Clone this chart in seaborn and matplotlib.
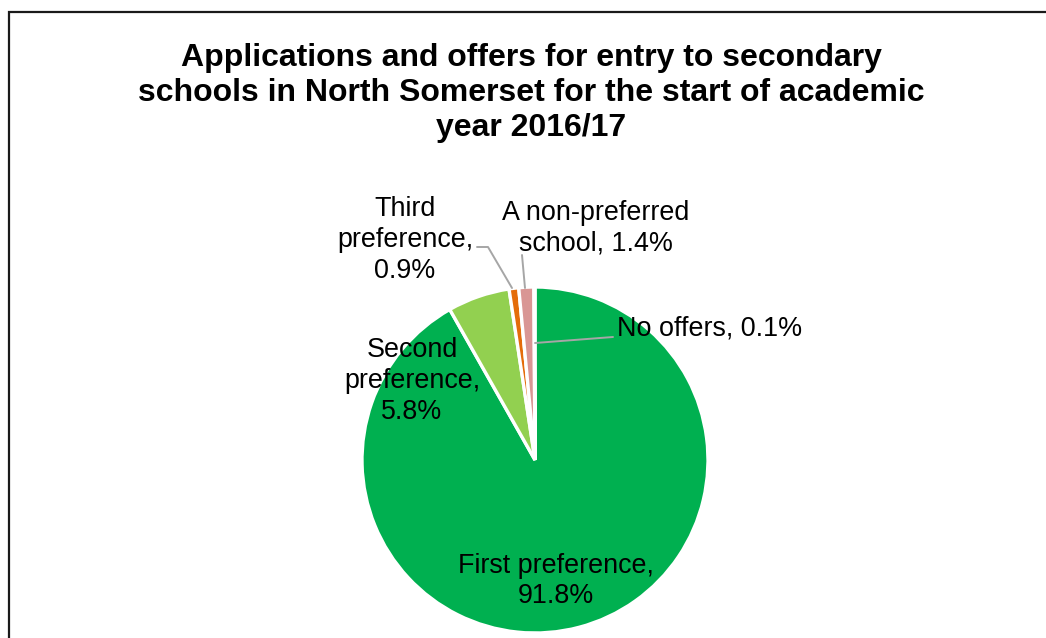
import matplotlib
matplotlib.use("Agg")
import matplotlib.pyplot as plt
from matplotlib.patches import Rectangle
import seaborn as sns

sns.set_theme(style="white")
plt.rcParams["font.family"] = ["Liberation Sans", "DejaVu Sans"]

# Offer outcomes (share of applicants, %)
categories = ["First preference", "Second preference", "Third preference",
              "A non-preferred school", "No offers"]
shares = [91.8, 5.8, 0.9, 1.4, 0.1]
colors = ["#00B050", "#92D050", "#E46C0A", "#D99694", "#8EB4E3"]
label_texts = ["First preference,\n91.8%", "Second\npreference,\n5.8%",
               "Third\npreference,\n0.9%", "A non-preferred\nschool, 1.4%",
               "No offers, 0.1%"]
title = ("Applications and offers for entry to secondary\n"
         "schools in North Somerset for the start of academic\n"
         "year 2016/17")

W, H = 1046, 638
fig = plt.figure(figsize=(W / 100, H / 100), dpi=100)
fig.patch.set_facecolor("white")

# Chart frame
fig.patches.append(Rectangle((8.5 / W, -0.2), 1.5, 1.2 - 11.5 / H,
                             transform=fig.transFigure, fill=False,
                             edgecolor="#1a1a1a", linewidth=1.6, zorder=0))

# Pie axes: unit radius = 173 px, centre at (535, 460) px
R = 173.0
cx, cy = 535.0, 460.0
half = 1.2 * R
ax = fig.add_axes([(cx - half) / W, (H - cy - half) / H, 2 * half / W, 2 * half / H])

ax.pie(shares, colors=colors, startangle=90, counterclock=False, radius=1.0,
       wedgeprops=dict(edgecolor="white", linewidth=2.4))
ax.set_aspect("auto")
ax.set_xlim(-1.2, 1.2)
ax.set_ylim(-1.2, 1.2)
ax.axis("off")

def d(px, py):
    return ((px - cx) / R, (cy - py) / R)

fs = 19.4
label_pos = [(556, 581), (412, 381), (405, 240), (596, 228), (710, 328)]
for txt, (px, py) in zip(label_texts, label_pos):
    x, y = d(px, py)
    ax.text(x, y, txt, ha="center", va="center", fontsize=fs, color="black",
            linespacing=1.24, clip_on=False)

# Leader lines
leaders = [
    [(477, 247), (488, 247), (512, 288)],
    [(522, 255), (525, 288)],
    [(535, 343), (613, 337)],
]
for pts in leaders:
    xs, ys = zip(*[d(px, py) for px, py in pts])
    ax.plot(xs, ys, color="#A6A6A6", linewidth=1.4, clip_on=False, zorder=5)

fig.text(531 / W, 1 - 93 / H, title, ha="center", va="center", fontsize=23,
         fontweight="bold", color="black", linespacing=1.23)

fig.savefig("out.png", dpi=100, facecolor="white")
